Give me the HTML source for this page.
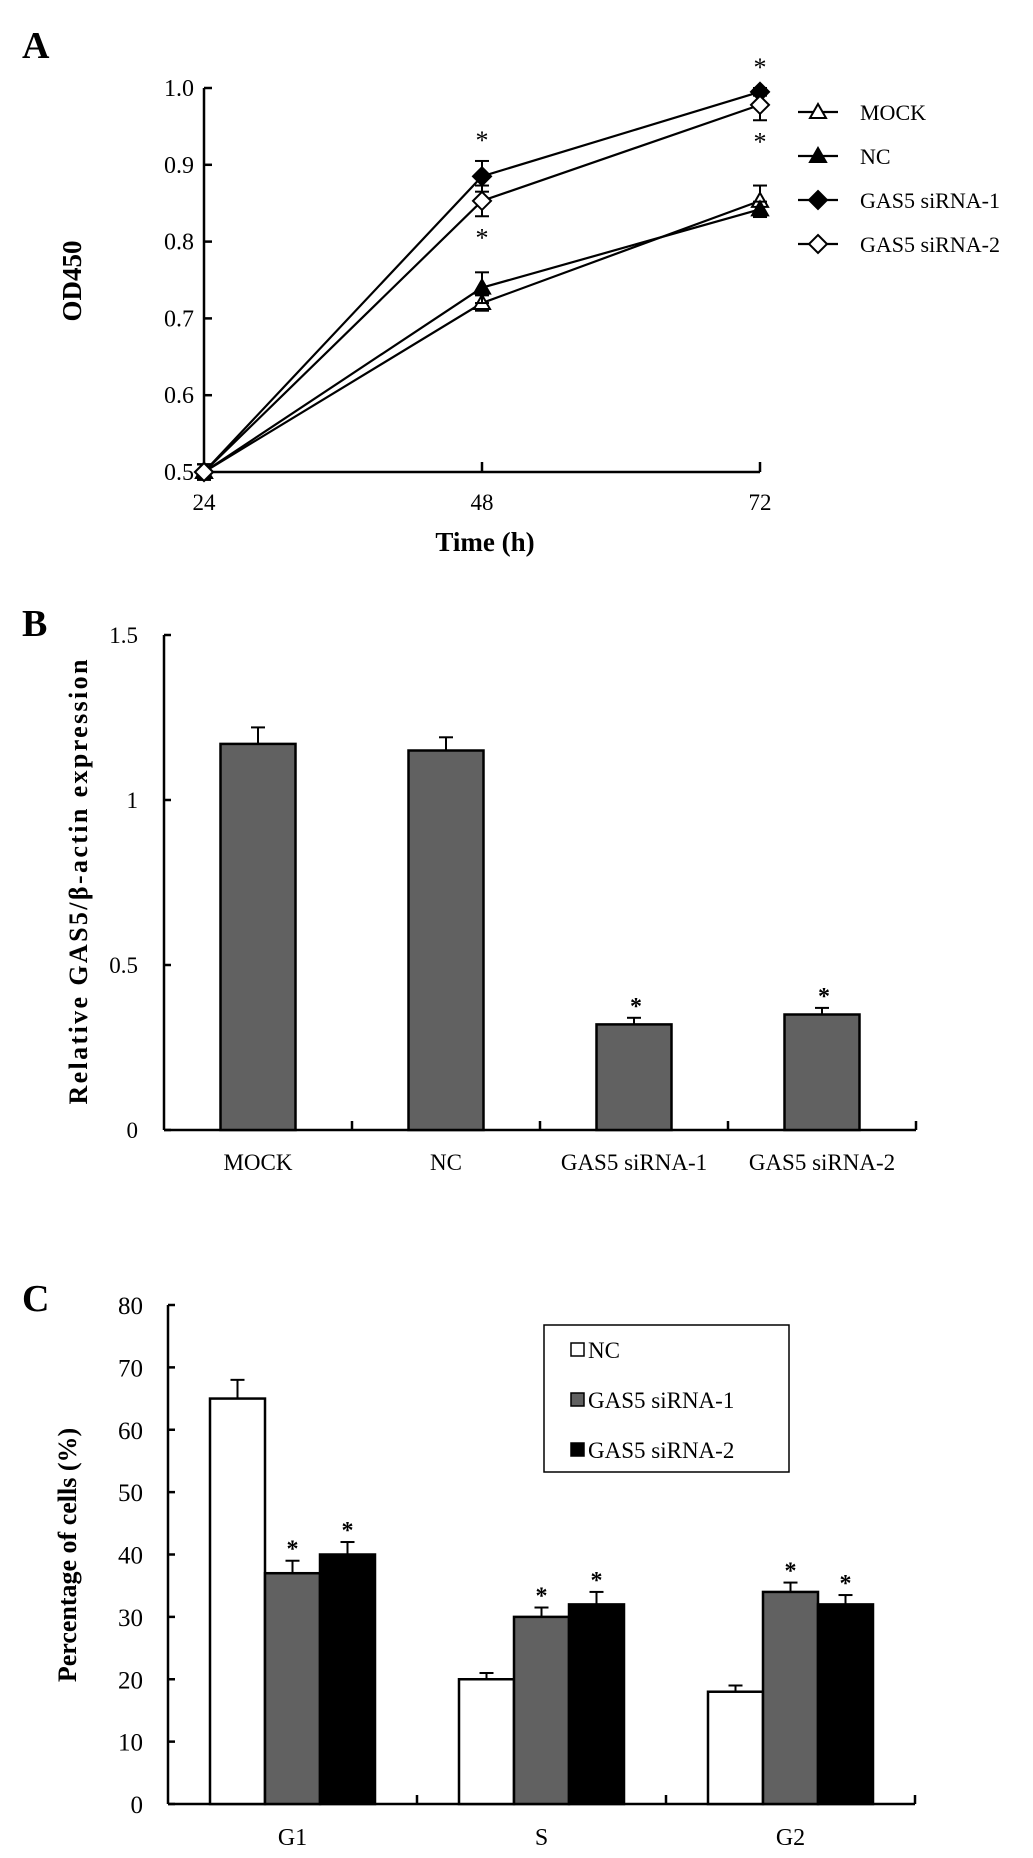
<!DOCTYPE html>
<html><head><meta charset="utf-8"><style>
html,body{margin:0;padding:0;background:#fff;}
svg{display:block;font-family:"Liberation Serif",serif;}
</style></head><body>
<svg id="fig" width="1033" height="1858" viewBox="0 0 1033 1858" xmlns="http://www.w3.org/2000/svg">
<rect width="1033" height="1858" fill="#fff"/>
<text x="22" y="58" font-size="38" font-weight="bold">A</text>
<text x="22" y="636" font-size="38" font-weight="bold">B</text>
<text x="22" y="1311" font-size="38" font-weight="bold">C</text>
<g id="A"></g>
<g id="B"></g>
<g id="C"></g>
</svg>
<script>
// ---- Panel A data ----
const timesA = [24, 48, 72];
const seriesNamesA = ["MOCK", "NC", "GAS5 siRNA-1", "GAS5 siRNA-2"];
const mockA = [0.5, 0.72, 0.853];
const ncA = [0.5, 0.74, 0.842];
const gas1A = [0.5, 0.885, 0.995];
const gas2A = [0.5, 0.853, 0.978];
const mockErrA = [0.01, 0.01, 0.02];
const ncErrA = [0.01, 0.02, 0.01];
const gas1ErrA = [0.01, 0.02, 0.005];
const gas2ErrA = [0.01, 0.02, 0.02];
const yTicksA = ["0.5", "0.6", "0.7", "0.8", "0.9", "1.0"];
// ---- Panel B data ----
const catsB = ["MOCK", "NC", "GAS5 siRNA-1", "GAS5 siRNA-2"];
const valsB = [1.17, 1.15, 0.32, 0.35];
const errB = [0.05, 0.04, 0.02, 0.02];
const sigB = [false, false, true, true];
const yTicksB = ["0", "0.5", "1", "1.5"];
// ---- Panel C data ----
const catsC = ["G1", "S", "G2"];
const seriesNamesC = ["NC", "GAS5 siRNA-1", "GAS5 siRNA-2"];
const ncC = [65, 20, 18];
const gas1C = [37, 30, 34];
const gas2C = [40, 32, 32];
const ncErrC = [3, 1, 1];
const gas1ErrC = [2, 1.5, 1.5];
const gas2ErrC = [2, 2, 1.5];
const yTicksC = ["0", "10", "20", "30", "40", "50", "60", "70", "80"];

const NS = "http://www.w3.org/2000/svg";
function mk(parent, tag, attrs, text) {
  const e = document.createElementNS(NS, tag);
  for (const k in attrs) e.setAttribute(k, attrs[k]);
  if (text !== undefined) e.textContent = text;
  parent.appendChild(e);
  return e;
}
const K = "#000";

// ================= Panel A =================
(function () {
  const g = document.getElementById("A");
  const ax0 = 204, ay0 = 472, ayTop = 88;
  const yA = v => ay0 - (v - 0.5) / 0.5 * (ay0 - ayTop);
  const xA = t => ax0 + (t - 24) / 24 * 278;
  let e;
  e = mk(g, "line", {x1: ax0, y1: ayTop, x2: ax0, y2: ay0, stroke: K, "stroke-width": 2.5});
  
  
  e = mk(g, "line", {x1: ax0, y1: ay0, x2: xA(72), y2: ay0, stroke: K, "stroke-width": 2.5});
  
  
  yTicksA.forEach(t => {
    const y = yA(parseFloat(t));
    mk(g, "line", {x1: ax0, y1: y, x2: ax0 + 8, y2: y, stroke: K, "stroke-width": 2.5});
    e = mk(g, "text", {x: ax0 - 10, y: y + 8, "font-size": 24, "text-anchor": "end"}, t);
    
    
  });
  timesA.forEach(t => {
    const x = xA(t);
    mk(g, "line", {x1: x, y1: ay0, x2: x, y2: ay0 - 10, stroke: K, "stroke-width": 2.5});
    e = mk(g, "text", {x: x, y: 510, "font-size": 23, "text-anchor": "middle"}, String(t));
    
    
  });
  e = mk(g, "text", {x: 485, y: 551, "font-size": 27, "font-weight": "bold", "text-anchor": "middle"}, "Time (h)");
  
  
  e = mk(g, "text", {x: 0, y: 0, "font-size": 27, "font-weight": "bold", "text-anchor": "middle", transform: "translate(81,281) rotate(-90)"}, "OD450");
  
  

  function marker(parent, type, x, y) {
    const s = 8;
    if (type === "tri" || type === "triF") {
      return mk(parent, "polygon", {points: `${x},${y - s} ${x - s},${y + s * 0.75} ${x + s},${y + s * 0.75}`, fill: type === "triF" ? K : "#fff", stroke: K, "stroke-width": 2});
    }
    return mk(parent, "polygon", {points: `${x},${y - 9} ${x + 9},${y} ${x},${y + 9} ${x - 9},${y}`, fill: type === "diaF" ? K : "#fff", stroke: K, "stroke-width": 2});
  }
  const ser = [
    {n: "mock", v: mockA, e: mockErrA, m: "tri"},
    {n: "nc", v: ncA, e: ncErrA, m: "triF"},
    {n: "gas5-sirna-1", v: gas1A, e: gas1ErrA, m: "diaF"},
    {n: "gas5-sirna-2", v: gas2A, e: gas2ErrA, m: "dia"}
  ];
  ser.forEach(s => {
    const sg = mk(g, "g", {});
    
    
    const pts = timesA.map((t, i) => xA(t) + "," + yA(s.v[i])).join(" ");
    mk(sg, "polyline", {points: pts, fill: "none", stroke: K, "stroke-width": 2.2});
    timesA.forEach((t, i) => {
      const x = xA(t), y = yA(s.v[i]), yt = yA(s.v[i] + s.e[i]), yb = yA(s.v[i] - s.e[i]);
      mk(sg, "line", {x1: x, y1: yt, x2: x, y2: yb, stroke: K, "stroke-width": 2});
      mk(sg, "line", {x1: x - 7, y1: yt, x2: x + 7, y2: yt, stroke: K, "stroke-width": 2});
      mk(sg, "line", {x1: x - 7, y1: yb, x2: x + 7, y2: yb, stroke: K, "stroke-width": 2});
      const p = marker(sg, s.m, x, y);
      
      
    });
  });
  // significance stars
  [[48, gas1A[1] + gas1ErrA[1], -1], [48, gas2A[1] - gas2ErrA[1], 1], [72, gas1A[2] + gas1ErrA[2], -1], [72, gas2A[2] - gas2ErrA[2], 1]].forEach(a => {
    const y = yA(a[1]) + (a[2] < 0 ? -12 : 30);
    e = mk(g, "text", {x: xA(a[0]), y: y, "font-size": 26, "text-anchor": "middle"}, "*");
    
    
  });
  // legend
  const types = ["tri", "triF", "diaF", "dia"];
  const lg = mk(g, "g", {});
  
  
  seriesNamesA.forEach((n, i) => {
    const y = 112 + i * 44;
    const eg = mk(lg, "g", {});
    
    
    mk(eg, "line", {x1: 798, y1: y, x2: 838, y2: y, stroke: K, "stroke-width": 2.2});
    marker(eg, types[i], 818, y);
    mk(eg, "text", {x: 860, y: y + 8, "font-size": 22}, n);
  });
})();

// ================= Panel B =================
(function () {
  const g = document.getElementById("B");
  const ax0 = 164, ay0 = 1130, ayTop = 635, step = 188;
  const yB = v => ay0 - v / 1.5 * (ay0 - ayTop);
  const xB = i => ax0 + step * (i + 0.5);
  let e;
  e = mk(g, "line", {x1: ax0, y1: ayTop, x2: ax0, y2: ay0, stroke: K, "stroke-width": 2.5});
  
  
  e = mk(g, "line", {x1: ax0, y1: ay0, x2: ax0 + step * catsB.length, y2: ay0, stroke: K, "stroke-width": 2.5});
  
  
  yTicksB.forEach(t => {
    const y = yB(parseFloat(t));
    mk(g, "line", {x1: ax0, y1: y, x2: ax0 + 7, y2: y, stroke: K, "stroke-width": 2.5});
    e = mk(g, "text", {x: ax0 - 26, y: y + 8, "font-size": 23, "text-anchor": "end"}, t);
    
    
  });
  for (let i = 1; i <= catsB.length; i++) {
    const x = ax0 + step * i;
    mk(g, "line", {x1: x, y1: ay0, x2: x, y2: ay0 - 9, stroke: K, "stroke-width": 2.5});
  }
  catsB.forEach((c, i) => {
    const x = xB(i), w = 75;
    const b = mk(g, "rect", {x: x - w / 2, y: yB(valsB[i]), width: w, height: ay0 - yB(valsB[i]), fill: "#616161", stroke: K, "stroke-width": 2.5});
    
    
    const yt = yB(valsB[i] + errB[i]);
    mk(g, "line", {x1: x, y1: yB(valsB[i]), x2: x, y2: yt, stroke: K, "stroke-width": 2});
    mk(g, "line", {x1: x - 7, y1: yt, x2: x + 7, y2: yt, stroke: K, "stroke-width": 2});
    if (sigB[i]) {
      e = mk(g, "text", {x: x + 2, y: yt - 4, "font-size": 24, "font-weight": "bold", "text-anchor": "middle"}, "*");
      
      
    }
    e = mk(g, "text", {x: x, y: 1170, "font-size": 23, "text-anchor": "middle"}, c);
    
    
  });
  e = mk(g, "text", {x: 0, y: 0, "font-size": 26, "font-weight": "bold", "text-anchor": "middle", textLength: 445, transform: "translate(87,882) rotate(-90)"}, "Relative GAS5/β-actin expression");
  
  
})();

// ================= Panel C =================
(function () {
  const g = document.getElementById("C");
  const ax0 = 168, ay0 = 1804, ayTop = 1305, step = 249, bw = 55;
  const yC = v => ay0 - v / 80 * (ay0 - ayTop);
  const xC = i => ax0 + step * (i + 0.5);
  let e;
  e = mk(g, "line", {x1: ax0, y1: ayTop, x2: ax0, y2: ay0, stroke: K, "stroke-width": 2.5});
  
  
  e = mk(g, "line", {x1: ax0, y1: ay0, x2: ax0 + step * catsC.length, y2: ay0, stroke: K, "stroke-width": 2.5});
  
  
  yTicksC.forEach(t => {
    const y = yC(parseFloat(t));
    mk(g, "line", {x1: ax0, y1: y, x2: ax0 + 7, y2: y, stroke: K, "stroke-width": 2.5});
    e = mk(g, "text", {x: ax0 - 25, y: y + 9, "font-size": 25, "text-anchor": "end"}, t);
    
    
  });
  for (let i = 1; i <= catsC.length; i++) {
    const x = ax0 + step * i;
    mk(g, "line", {x1: x, y1: ay0, x2: x, y2: ay0 - 9, stroke: K, "stroke-width": 2.5});
  }
  const fills = ["#fff", "#616161", "#000"];
  const vals = [ncC, gas1C, gas2C], errs = [ncErrC, gas1ErrC, gas2ErrC];
  const names = ["nc", "gas5-sirna-1", "gas5-sirna-2"];
  catsC.forEach((c, i) => {
    const cx = xC(i);
    for (let s = 0; s < 3; s++) {
      const x = cx - 1.5 * bw + s * bw, v = vals[s][i];
      const b = mk(g, "rect", {x: x, y: yC(v), width: bw, height: ay0 - yC(v), fill: fills[s], stroke: K, "stroke-width": 2.5});
      
      
      const mx = x + bw / 2, yt = yC(v + errs[s][i]);
      mk(g, "line", {x1: mx, y1: yC(v), x2: mx, y2: yt, stroke: K, "stroke-width": 2});
      mk(g, "line", {x1: mx - 7, y1: yt, x2: mx + 7, y2: yt, stroke: K, "stroke-width": 2});
      if (s > 0) {
        e = mk(g, "text", {x: mx, y: yt - 4, "font-size": 24, "font-weight": "bold", "text-anchor": "middle"}, "*");
        
        
      }
    }
    e = mk(g, "text", {x: cx, y: 1845, "font-size": 24, "text-anchor": "middle"}, c);
    
    
  });
  e = mk(g, "text", {x: 0, y: 0, "font-size": 26, "font-weight": "bold", "text-anchor": "middle", transform: "translate(76,1555) rotate(-90)"}, "Percentage of cells (%)");
  
  
  // legend
  const lg = mk(g, "g", {});
  
  
  mk(lg, "rect", {x: 544, y: 1325, width: 245, height: 147, fill: "#fff", stroke: K, "stroke-width": 1.5});
  seriesNamesC.forEach((n, i) => {
    const y = 1350 + i * 50;
    const eg = mk(lg, "g", {});
    
    
    mk(eg, "rect", {x: 571, y: y - 7, width: 13, height: 13, fill: fills[i], stroke: K, "stroke-width": 1.5});
    mk(eg, "text", {x: 588, y: y + 8, "font-size": 23}, n);
  });
})();
</script>
</body></html>
